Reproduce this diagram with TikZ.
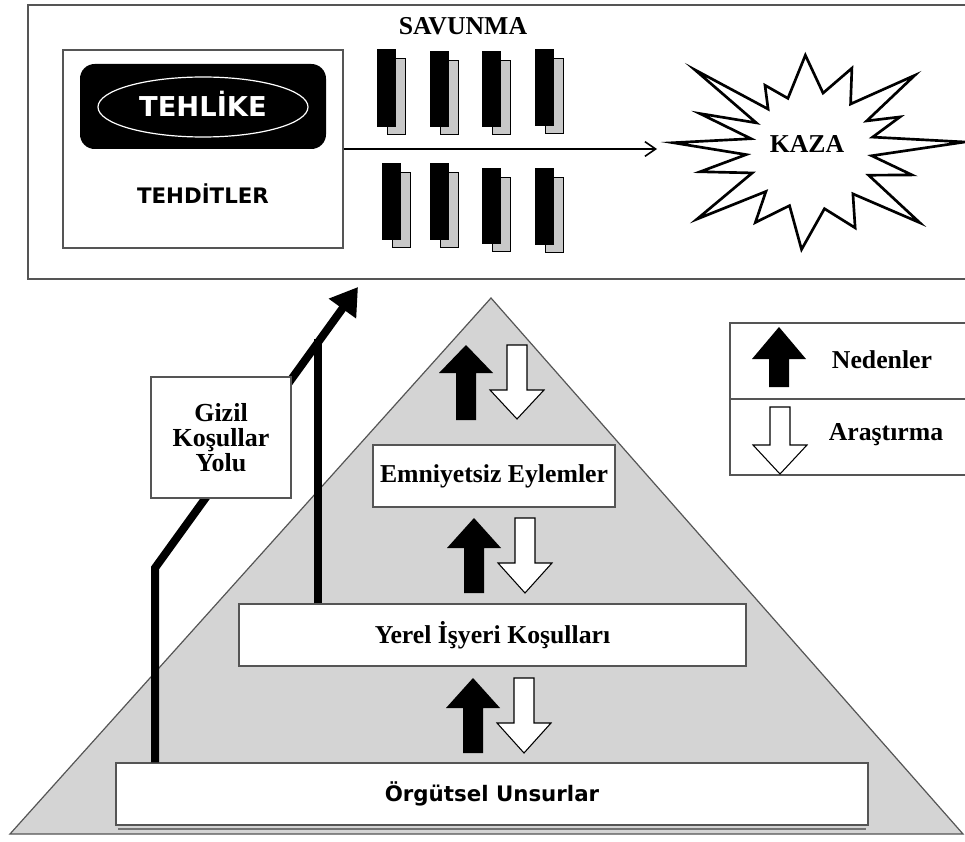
\documentclass[tikz,border=0pt]{standalone}
\usepackage{fontspec}
\setmainfont{Liberation Serif}
\newfontfamily\dvsans{DejaVu Sans}
\usetikzlibrary{arrows.meta}
\definecolor{pyrgray}{HTML}{D4D4D4}
\definecolor{bargray}{HTML}{C8C8C8}
\definecolor{edgegray}{HTML}{555555}
\newcommand\upblk[4]{\fill[black] (#1-10,#2) -- (#1-10,#2-#3+#4) -- (#1-27,#2-#3+#4) -- (#1,#2-#3) -- (#1+27,#2-#3+#4) -- (#1+10,#2-#3+#4) -- (#1+10,#2) -- cycle;}
\newcommand\downblk[4]{\filldraw[fill=white,draw=black,line width=0.8pt] (#1,#2) -- (#1-27,#2-#4) -- (#1-10,#2-#4) -- (#1-10,#2-#3) -- (#1+10,#2-#3) -- (#1+10,#2-#4) -- (#1+27,#2-#4) -- cycle;}
\begin{document}
\begin{tikzpicture}[x=0.75pt,y=-0.75pt,
  serif/.style={font=\fontsize{19.3}{19}\selectfont\bfseries},
  sansb/.style={font=\dvsans\bfseries\fontsize{16}{16}\selectfont},
  frame/.style={draw=edgegray, line width=1.5pt},
  levelbox/.style={draw=edgegray, line width=1pt, fill=white, inner sep=0pt, minimum height=46.5pt},
  bar/.style={fill=bargray, draw=black, line width=0.6pt},
  path/.style={line width=6pt, line join=miter}]
\useasboundingbox (0,0) rectangle (965,842);
\fill[white] (0,0) rectangle (965,842);

% ---------- top frame ----------
\draw[frame] (28,5) rectangle (968,279);
\node[draw=edgegray, line width=1pt, minimum width=210pt, minimum height=148.5pt, inner sep=0pt] (tehdit) at (203,149) {};
\node[fill=black, rounded corners=11pt, minimum width=184.5pt, minimum height=63.75pt, inner sep=0pt] (sign) at (203,106.5) {};
\draw[white, line width=0.9pt] (203,107) ellipse [x radius=78.75pt, y radius=22.5pt];
\node[text=white, font=\dvsans\bfseries\fontsize{20.5}{20}\selectfont, anchor=base, inner sep=0pt] (tehlike) at (203,117) {TEHLİKE};
\node[sansb, anchor=base, inner sep=0pt] (tehditler) at (203,204) {TEHDİTLER};

\node[serif, anchor=base, inner sep=0pt] (savunma) at (463,35) {SAVUNMA};
\foreach \x/\ya/\yb in {377/49/127, 430/51/127, 482/51/127, 535/49/126, 382/163/240, 430/163/240, 482/168/244, 535/168/245} {
  \draw[bar] (\x+10,\ya+9) rectangle (\x+28,\yb+7);
  \fill[black] (\x,\ya) rectangle (\x+19,\yb);
}

\coordinate (hit) at (657,149);
\draw[line width=0.8pt, -{Straight Barb[length=8pt,width=11pt,line width=1.2pt]}] (tehdit.east) -- (hit);

\draw[line width=2pt, fill=white, line join=miter, shift={(812,150)}]
  (-177:139) -- (-169.5:62) -- (-162:118) -- (-154:62) -- (-145.6:142) -- (-137:60) -- (-126:80) -- (-115:57) -- (-94:95) -- (-79:58) -- (-64:91) -- (-50:60) -- (-36:127) -- (-28:62) -- (-20.6:94) -- (-12:62) -- (-3:153) -- (5.5:60) -- (14:103) -- (24:62) -- (34:130) -- (47:60) -- (61:89) -- (78:60) -- (96:100) -- (112:60) -- (128:92) -- (138:62) -- (149:134) -- (159:64) -- (169:114) -- (176:66) -- cycle;
\node[serif, anchor=base, inner sep=0pt] (kaza) at (807,152) {KAZA};

% ---------- pyramid ----------
\draw[fill=pyrgray, draw=edgegray, line width=0.9pt] (491,298) -- (10,834) -- (963,834) -- cycle;

% levels
\node[levelbox, serif, minimum width=181.5pt] (emn) at (494,476) {Emniyetsiz Eylemler};
\node[levelbox, serif, minimum width=380.25pt] (yerel) at (492.5,635) {Yerel İşyeri Koşulları};
\node[levelbox, sansb, minimum width=564pt] (org) at (492,794) {Örgütsel Unsurlar};
\draw[black!55, line width=1.5pt] (118,829) -- (866,829);

% cause / investigation arrows
\upblk{466}{420}{75}{28}
\downblk{517}{419}{74}{29}
\upblk{474}{593}{75}{30}
\downblk{525}{593}{75}{30}
\upblk{473}{753}{75}{30}
\downblk{524}{753}{75}{30}

% ---------- latent conditions pathway ----------
\coordinate (bendA) at (155,568);
\coordinate (tip) at (358,287);
\coordinate (v2top) at (318,339);
\draw[path, -{Triangle[width=24pt,length=20pt]}] (org.north -| bendA) -- (bendA) -- (tip);
\draw[line width=5.5pt] (yerel.north -| v2top) -- (v2top);
\node[draw=edgegray, line width=1pt, fill=white, minimum width=105pt, minimum height=90.75pt, inner sep=0pt, align=center, font=\fontsize{19.5}{18.5}\selectfont\bfseries] (gizil) at (221,437.5) {Gizil\\Koşullar\\Yolu};

% ---------- legend ----------
\draw[draw=edgegray, line width=1pt, fill=white] (730,323) rectangle (968,475);
\draw[draw=edgegray, line width=1pt] (730,399) -- (968,399);
\upblk{779}{387}{60}{32}
\downblk{780}{474}{67}{29}
\node[serif, anchor=base, inner sep=0pt] (neden) at (882,368) {Nedenler};
\node[serif, anchor=base, inner sep=0pt] (arast) at (886,440) {Araştırma};
\end{tikzpicture}
\end{document}
